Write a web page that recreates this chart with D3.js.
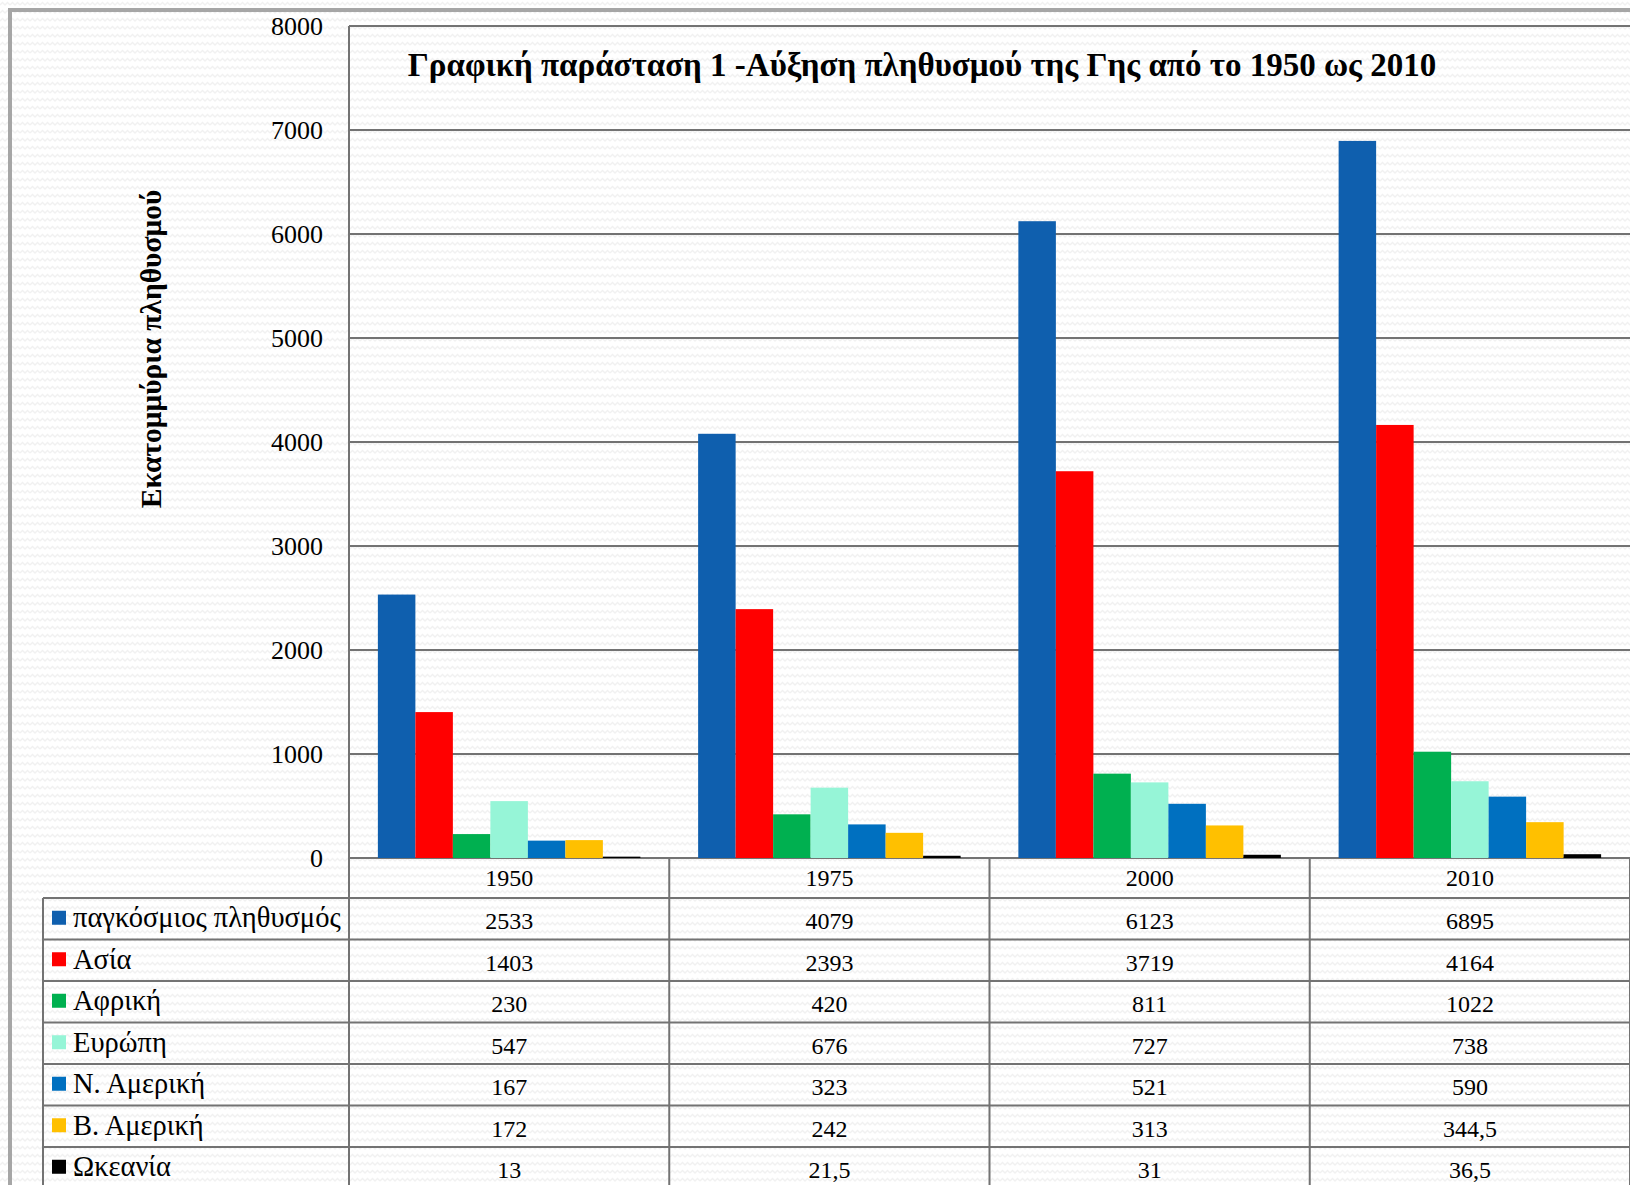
<!DOCTYPE html>
<html>
<head>
<meta charset="utf-8">
<script src="https://cdn.jsdelivr.net/npm/d3@7"></script>
<style>
    html, body { margin: 0; padding: 0; background: #fff; }
    svg { display: block; }
    .yaxis text { font-family: 'Liberation Serif', 'Times New Roman', serif; font-size: 26px; }
</style>
</head>
<body>
<div id="content"></div>
<script>
// Data (millions of people)
var years = ["1950", "1975", "2000", "2010"];
var seriesNames = ["παγκόσμιος πληθυσμός", "Ασία", "Αφρική", "Ευρώπη", "Ν. Αμερική", "Β. Αμερική", "Ωκεανία"];
var seriesColors = ["#0f5fae", "#ff0000", "#00b050", "#96f5d7", "#0070c0", "#ffc000", "#000000"];
var world = [2533, 4079, 6123, 6895];
var asia = [1403, 2393, 3719, 4164];
var africa = [230, 420, 811, 1022];
var europe = [547, 676, 727, 738];
var southAmerica = [167, 323, 521, 590];
var northAmerica = [172, 242, 313, 344.5];
var oceania = [13, 21.5, 31, 36.5];
var yTicks = [0, 1000, 2000, 3000, 4000, 5000, 6000, 7000, 8000];

var chart = (function () {

    "use strict";

    var W = 1630,
        H = 1185,
        plotLeft = 349,
        plotRight = 1630,
        plotTop = 26,
        plotBottom = 858,
        tableLeft = 43,
        headerH = 40,
        rowH = 41.5,
        gridColor = "#737373",
        serif = "'Liberation Serif', 'Times New Roman', serif";

    var allSeries = [world, asia, africa, europe, southAmerica, northAmerica, oceania];

    function fmt(v) {
        return String(v).replace(".", ",");
    }

    function addBackground(svg) {
        var pat = svg.append("defs").append("pattern")
            .attr("id", "waves")
            .attr("patternUnits", "userSpaceOnUse")
            .attr("width", 10)
            .attr("height", 8);
        pat.append("rect").attr("width", 10).attr("height", 8).attr("fill", "#ffffff");
        pat.append("path")
            .attr("d", "M0,5 L2.5,2.5 L5,5 L7.5,2.5 L10,5")
            .attr("fill", "none")
            .attr("stroke", "#f1f1f1")
            .attr("stroke-width", 1.3);

        svg.append("rect").attr("width", W).attr("height", H).attr("fill", "url(#waves)");

        // outer chart frame, cut by the right and bottom edges
        svg.append("rect")
            .attr("x", 10).attr("y", 10)
            .attr("width", W + 20).attr("height", H + 20)
            .attr("fill", "none")
            .attr("stroke", "#a6a6a6")
            .attr("stroke-width", 4);
    }

    function render() {

        var svg = d3.select("#content").append("svg")
            .attr("width", W)
            .attr("height", H);

        addBackground(svg);

        var x = d3.scaleBand().domain(years).range([plotLeft, plotRight]).padding(0);
        var xs = d3.scaleBand().domain(seriesNames).range([0, x.bandwidth()])
            .paddingInner(0).paddingOuter(0.77);
        var y = d3.scaleLinear().domain([0, 8000]).range([plotBottom, plotTop]);

        // gridlines
        svg.append("g").selectAll("line")
            .data(yTicks)
            .enter().append("line")
            .attr("x1", plotLeft).attr("x2", plotRight)
            .attr("y1", function (d) { return y(d); })
            .attr("y2", function (d) { return y(d); })
            .attr("stroke", gridColor)
            .attr("stroke-width", 2);

        // y axis (labels only, the line is drawn by hand below)
        var yAxis = d3.axisLeft(y).tickValues(yTicks).tickSize(0).tickPadding(26)
            .tickFormat(d3.format("d"));
        var ya = svg.append("g")
            .attr("class", "yaxis")
            .attr("transform", "translate(" + plotLeft + ",0)")
            .call(yAxis);
        ya.select(".domain").remove();
        ya.selectAll("text")
            .style("font-family", serif)
            .style("font-size", "26px")
            .attr("fill", "#000");

        // bars
        var groups = svg.append("g").selectAll("g")
            .data(years)
            .enter().append("g")
            .attr("transform", function (d) { return "translate(" + x(d) + ",0)"; });

        groups.selectAll("rect")
            .data(function (d, i) {
                return seriesNames.map(function (s, j) {
                    return {name: s, value: allSeries[j][i], color: seriesColors[j]};
                });
            })
            .enter().append("rect")
            .attr("x", function (d) { return xs(d.name); })
            .attr("width", xs.bandwidth())
            .attr("y", function (d) { return y(d.value); })
            .attr("height", function (d) { return plotBottom - y(d.value); })
            .attr("fill", function (d) { return d.color; });

        // axis line on the left
        svg.append("line")
            .attr("x1", plotLeft).attr("x2", plotLeft)
            .attr("y1", plotTop).attr("y2", H)
            .attr("stroke", gridColor).attr("stroke-width", 2);

        drawTable(svg, x);

        // title
        svg.append("text")
            .attr("x", 922)
            .attr("y", 76)
            .attr("text-anchor", "middle")
            .attr("font-family", serif)
            .attr("font-weight", "bold")
            .attr("font-size", 33)
            .text("Γραφική παράσταση 1 -Αύξηση πληθυσμού της Γης από το 1950 ως 2010");

        // y axis title
        svg.append("text")
            .attr("transform", "translate(161,349) rotate(-90)")
            .attr("text-anchor", "middle")
            .attr("font-family", serif)
            .attr("font-weight", "bold")
            .attr("font-size", 29.5)
            .text("Εκατομμύρια πληθυσμού");
    }

    /* Data table under the plot */

    function drawTable(svg, x) {
        var t = svg.append("g");
        var rowTop = plotBottom + headerH;

        // horizontal lines
        var hLines = d3.range(seriesNames.length + 1).map(function (i) { return rowTop + i * rowH; });
        t.selectAll("line.h")
            .data(hLines)
            .enter().append("line")
            .attr("class", "h")
            .attr("x1", tableLeft).attr("x2", plotRight)
            .attr("y1", function (d) { return d; })
            .attr("y2", function (d) { return d; })
            .attr("stroke", gridColor).attr("stroke-width", 2);

        // vertical lines between the year columns
        t.selectAll("line.v")
            .data(years)
            .enter().append("line")
            .attr("class", "v")
            .attr("x1", function (d) { return x(d) + x.bandwidth(); })
            .attr("x2", function (d) { return x(d) + x.bandwidth(); })
            .attr("y1", plotBottom).attr("y2", H)
            .attr("stroke", gridColor).attr("stroke-width", 2);

        t.append("line")
            .attr("x1", tableLeft).attr("x2", tableLeft)
            .attr("y1", rowTop).attr("y2", H)
            .attr("stroke", gridColor).attr("stroke-width", 2);

        // header
        t.selectAll("text.year")
            .data(years)
            .enter().append("text")
            .attr("class", "year")
            .attr("x", function (d) { return x(d) + x.bandwidth() / 2; })
            .attr("y", plotBottom + headerH / 2)
            .attr("dy", "0.35em")
            .attr("text-anchor", "middle")
            .attr("font-family", serif)
            .attr("font-size", 24)
            .text(function (d) { return d; });

        // rows
        var rows = t.selectAll("g.row")
            .data(seriesNames)
            .enter().append("g")
            .attr("class", "row")
            .attr("transform", function (d, i) { return "translate(0," + (rowTop + i * rowH) + ")"; });

        rows.append("rect")
            .attr("x", 52).attr("y", rowH / 2 - 8)
            .attr("width", 14).attr("height", 14)
            .attr("fill", function (d, i) { return seriesColors[i]; });

        rows.append("text")
            .attr("x", 73)
            .attr("y", rowH / 2)
            .attr("dy", "0.3em")
            .attr("font-family", serif)
            .attr("font-size", 28.5)
            .text(function (d) { return d; });

        rows.selectAll("text.val")
            .data(function (d, i) { return allSeries[i]; })
            .enter().append("text")
            .attr("class", "val")
            .attr("x", function (d, j) { return x(years[j]) + x.bandwidth() / 2; })
            .attr("y", rowH / 2 + 2)
            .attr("dy", "0.35em")
            .attr("text-anchor", "middle")
            .attr("font-family", serif)
            .attr("font-size", 24)
            .text(function (d) { return fmt(d); });
    }

    return {
        render: render
    };

}());

chart.render();
</script>
</body>
</html>
